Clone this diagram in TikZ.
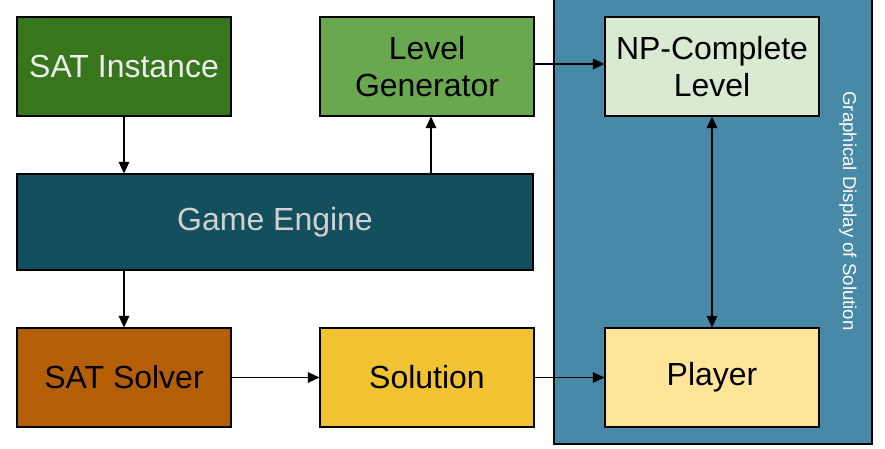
\documentclass[tikz,border=0pt]{standalone}
\usepackage{fontspec}
\setmainfont{Liberation Sans}
\usetikzlibrary{arrows.meta,positioning}
\definecolor{satgreen}{RGB}{56,118,29}
\definecolor{gengreen}{RGB}{106,168,79}
\definecolor{nplight}{RGB}{217,234,211}
\definecolor{enginedark}{RGB}{19,79,92}
\definecolor{solverbrown}{RGB}{180,95,6}
\definecolor{solyellow}{RGB}{241,194,50}
\definecolor{playerlight}{RGB}{255,229,153}
\definecolor{panelblue}{RGB}{72,137,168}
\tikzstyle{arrow} = [line width=0.7pt,-{Triangle[length=2.3mm,width=2.1mm]},color=black]
\tikzstyle{darrow} = [line width=0.7pt,{Triangle[length=2.3mm,width=2.1mm]}-{Triangle[length=2.3mm,width=2.1mm]},color=black]
\tikzstyle{block} = [rectangle, minimum width=4.28cm, minimum height=1.98cm, text centered, draw=black, line width=0.6pt, font=\fontsize{18.2}{21.5}\selectfont, align=center]

\begin{document}
\begin{tikzpicture}
\useasboundingbox (0,0) rectangle (17.7,8.98);
% display panel
\node (panel) [rectangle, draw=black, line width=0.6pt, fill=panelblue, minimum width=6.36cm, minimum height=8.96cm] at (14.26,4.58) {};
\node (paneltext) [rotate=-90, text=white, font=\fontsize{10.6}{12}\selectfont] at (16.96,4.76) {Graphical Display of Solution};

% blocks
\node (instance) [block, fill=satgreen, text=white!93!black] at (2.48,7.65) {SAT Instance};
\node (generator) [block, fill=gengreen] at (8.54,7.65) {Level\\Generator};
\node (level) [block, fill=nplight] at (14.24,7.65) {NP-Complete\\Level};
\node (engine) [block, fill=enginedark, text=white!82!black, minimum width=10.32cm, minimum height=1.92cm] at (5.5,4.54) {Game Engine};
\node (solver) [block, fill=solverbrown] at (2.48,1.43) {SAT Solver};
\node (solution) [block, fill=solyellow] at (8.54,1.43) {Solution};
\node (player) [block, fill=playerlight] at (14.24,1.43) {Player};

\draw[arrow] (instance.south) -- (instance.south |- engine.north);
\draw[arrow] ([xshift=0.08cm]engine.north -| generator.south) -- ([xshift=0.08cm]generator.south);
\draw[arrow] ([yshift=0.05cm]generator.east) -- ([yshift=0.05cm]level.west);
\draw[darrow] (level.south) -- (player.north);
\draw[arrow] (solver.north |- engine.south) -- (solver.north);
\draw[arrow] (solver.east) -- (solution.west);
\draw[arrow] (solution.east) -- (player.west);
\end{tikzpicture}
\end{document}
